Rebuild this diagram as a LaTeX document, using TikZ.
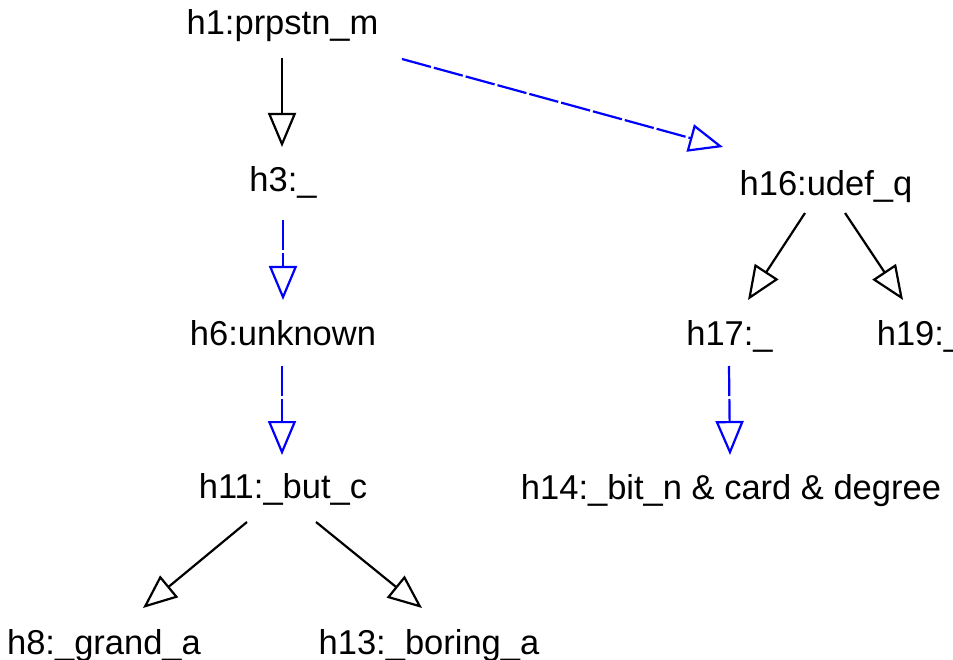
\documentclass[tikz,border=0pt]{standalone}
\usepackage{fontspec}
\setmainfont{Liberation Sans}
\usetikzlibrary{arrows.meta,calc}
\tikzset{
  lbl/.style={inner sep=0pt, anchor=base, font=\fontsize{34.5}{40}\selectfont},
  blk/.style={draw=black, line width=2.2pt, -{Triangle[open, length=34pt, width=28pt, line width=2.2pt]}},
  blu/.style={draw=blue, line width=2.2pt, dash pattern=on 30pt off 3pt, -{Triangle[open, length=34pt, width=28pt, line width=2.2pt]}}
}
\begin{document}
\begin{tikzpicture}[x=1pt,y=-1pt]
\useasboundingbox (0,0) rectangle (953,660);
\fill[white] (0,0) rectangle (953,660);
\node[lbl] (h1) at (282.5,35) {h1:prpstn\_m};
\node[lbl] (h3) at (283,192) {h3:\_};
\node[lbl] (h6) at (283,345) {h6:unknown};
\node[lbl] (h11) at (283,498) {h11:\_but\_c};
\node[lbl] (h8) at (104,654) {h8:\_grand\_a};
\node[lbl] (h13) at (429,654) {h13:\_boring\_a};
\node[lbl] (h16) at (826,196) {h16:udef\_q};
\node[lbl] (h17) at (729.5,345) {h17:\_};
\node[lbl] (h19) at (920,345) {h19:\_};
\node[lbl] (h14) at (731,499) {h14:\_bit\_n \& card \& degree};
\draw[blk] ($(h1.base)+(-0.5,23)$) -- ($(h3.base)+(-1,-45)$);
\draw[blu] ($(h1.base)+(119.5,24)$) -- ($(h16.base)+(-103,-49)$);
\draw[blu] ($(h3.base)+(0,28)$) -- ($(h6.base)+(0,-45)$);
\draw[blu] ($(h6.base)+(-1,21)$) -- ($(h11.base)+(-1,-43)$);
\draw[blk] ($(h11.base)+(-36,24)$) -- ($(h8.base)+(39,-46)$);
\draw[blk] ($(h11.base)+(33,24)$) -- ($(h13.base)+(-7,-46)$);
\draw[blk] ($(h16.base)+(-21,17)$) -- ($(h17.base)+(18.5,-45)$);
\draw[blk] ($(h16.base)+(19,17)$) -- ($(h19.base)+(-17,-45)$);
\draw[blu] ($(h17.base)+(-0.5,21)$) -- ($(h14.base)+(-1,-44)$);
\end{tikzpicture}
\end{document}
